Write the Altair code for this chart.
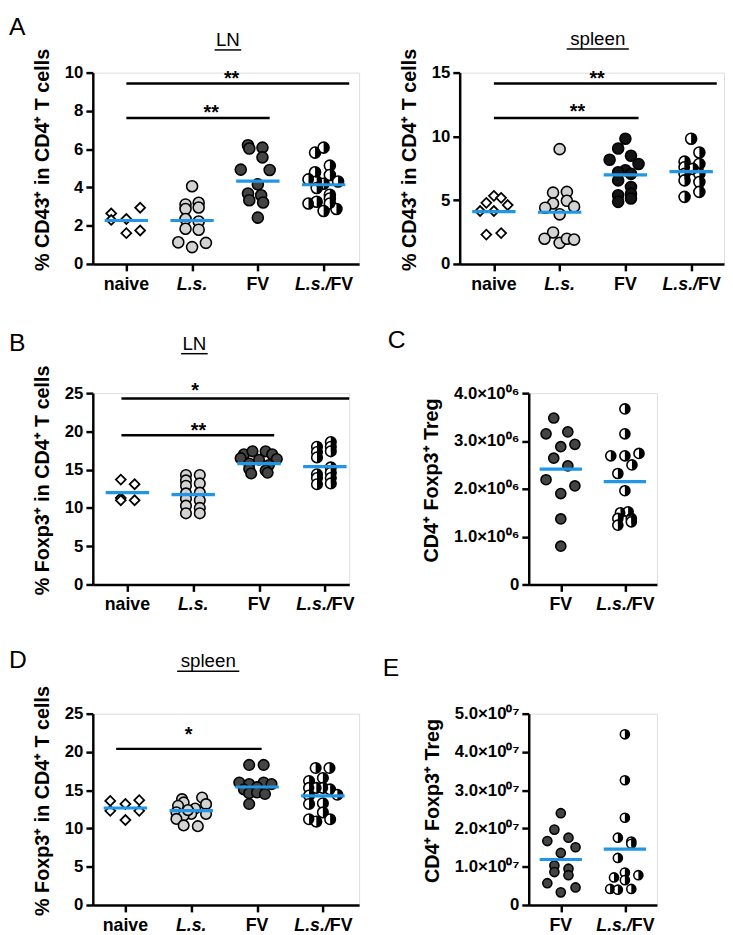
import altair as alt
import pandas as pd

FONT = "Liberation Sans"
BLUE = "#2196e6"
H = 194
HALF = "M0,-1A1,1,0,0,1,0,1Z"

CATS4 = ["naive", "L.s.", "FV", "L.s./FV"]
CATS2 = ["FV", "L.s./FV"]

# ---------------- Panel A, LN: % CD43+ in CD4+ T cells ----------------
A_LN_NAIVE = [2.64, 2.30, 2.35, 2.94, 1.61, 1.75]
A_LN_NAIVE_JIT = [-0.23, -0.23, 0.0, 0.21, 0.0, 0.21]
A_LN_LS = [4.06, 3.11, 3.20, 2.87, 2.95, 2.35, 2.22, 1.84, 1.79, 1.13, 0.88, 1.10]
A_LN_LS_JIT = [0.0, -0.1, 0.1, -0.1, 0.1, -0.1, 0.1, -0.1, 0.1, -0.21, 0.0, 0.21]
A_LN_FV = [6.20, 6.03, 6.08, 5.57, 4.93, 4.91, 4.16, 3.68, 3.59, 3.33, 3.21, 2.42]
A_LN_FV_JIT = [-0.15, -0.13, 0.07, 0.07, -0.26, 0.18, 0.0, -0.15, 0.05, -0.13, 0.08, 0.0]
A_LN_LSFV = [5.82, 6.08, 5.14, 4.79, 4.65, 4.42, 4.31, 4.31, 4.19, 3.97, 3.62, 3.42, 3.16, 3.25, 3.16, 2.77, 2.87]
A_LN_LSFV_JIT = [-0.13, 0.0, 0.095, -0.13, 0.095, -0.23, 0.22, -0.105, 0.0, -0.105, 0.095, 0.095, -0.23, -0.105, 0.095, 0.0, 0.195]
A_LN_MEAN = [2.27, 2.27, 4.33, 4.14]
A_LN_SIG_Y = [9.43, 7.63]
A_LN_SIG_FROM = [0.0, 0.0]
A_LN_SIG_TO = [3.39, 2.18]
A_LN_STAR_X = [1.6, 1.29]
A_LN_STAR_Y = [9.91, 8.14]
A_LN_STAR = ["**", "**"]

# ---------------- Panel A, spleen ----------------
A_SP_NAIVE = [4.15, 4.79, 5.34, 5.18, 4.62, 4.15, 2.30, 2.42]
A_SP_NAIVE_JIT = [-0.21, -0.115, 0.0, 0.11, 0.21, 0.0, -0.115, 0.11]
A_SP_LS = [9.0, 5.59, 5.65, 4.74, 4.95, 4.41, 4.49, 3.89, 2.47, 1.98, 1.65, 1.98, 1.91]
A_SP_LS_JIT = [0.0, -0.1, 0.11, -0.1, 0.11, -0.22, 0.22, 0.0, -0.1, -0.23, 0.0, 0.11, 0.22]
A_SP_FV = [9.82, 9.05, 8.17, 8.48, 7.84, 7.35, 7.19, 7.06, 6.55, 6.03, 5.51, 5.13, 5.39, 4.87]
A_SP_FV_JIT = [0.0, -0.11, -0.24, 0.085, 0.2, 0.0, -0.11, 0.085, -0.11, 0.085, 0.085, 0.085, -0.11, -0.11]
A_SP_LSFV = [9.82, 8.74, 8.02, 7.84, 7.58, 7.45, 7.06, 7.06, 6.55, 6.42, 5.65, 5.26]
A_SP_LSFV_JIT = [0.0, 0.125, -0.1, 0.125, -0.1, 0.025, -0.1, 0.125, -0.1, 0.125, 0.125, -0.1]
A_SP_MEAN = [4.10, 4.05, 6.98, 7.24]
A_SP_SIG_Y = [14.15, 11.45]
A_SP_SIG_FROM = [0.0, 0.0]
A_SP_SIG_TO = [3.39, 2.2]
A_SP_STAR_X = [1.57, 1.27]
A_SP_STAR_Y = [14.87, 12.3]
A_SP_STAR = ["**", "**"]

# ---------------- Panel B, LN: % Foxp3+ in CD4+ T cells ----------------
B_NAIVE = [13.7, 13.1, 11.3, 11.0, 11.0]
B_NAIVE_JIT = [-0.1, 0.11, -0.1, -0.1, 0.11]
B_LS = [14.3, 13.6, 12.9, 11.9, 11.2, 10.3, 9.3, 14.3, 13.2, 12.0, 11.0, 10.0, 9.3]
B_LS_JIT = [-0.11, -0.11, -0.11, -0.11, -0.11, -0.11, -0.11, 0.1, 0.1, 0.1, 0.1, 0.1, 0.1]
B_FV = [17.0, 17.4, 17.4, 17.0, 16.5, 16.3, 16.4, 15.8, 15.6, 15.1, 14.9, 14.5, 14.6]
B_FV_JIT = [-0.23, -0.1, 0.1, 0.2, -0.28, 0.0, 0.27, -0.15, 0.15, -0.15, 0.1, -0.12, 0.13]
B_LSFV = [18.0, 17.3, 16.6, 14.4, 13.9, 13.1, 18.6, 18.0, 17.4, 15.3, 14.6, 13.9, 13.2]
B_LSFV_JIT = [-0.12, -0.12, -0.12, -0.12, -0.12, -0.12, 0.09, 0.09, 0.09, 0.09, 0.09, 0.09, 0.09]
B_MEAN = [12.0, 11.75, 15.8, 15.4]
B_SIG_Y = [24.3, 19.5]
B_SIG_FROM = [-0.09, -0.09]
B_SIG_TO = [3.37, 2.23]
B_STAR_X = [1.03, 1.08]
B_STAR_Y = [25.9, 20.66]
B_STAR = ["*", "**"]

# ---------------- Panel C: CD4+ Foxp3+ Treg (counts) ----------------
C_FV = [3.48e6, 3.15e6, 3.19e6, 2.88e6, 2.93e6, 2.64e6, 2.48e6, 2.19e6, 2.06e6, 1.90e6, 1.37e6, 0.80e6]
C_FV_JIT = [-0.11, -0.23, 0.11, 0.0, 0.22, -0.11, 0.11, -0.23, 0.22, 0.0, 0.0, 0.0]
C_LSFV = [3.67e6, 3.15e6, 2.69e6, 2.69e6, 2.74e6, 2.50e6, 2.32e6, 1.96e6, 1.50e6, 1.52e6, 1.38e6, 1.38e6, 1.24e6, 1.31e6]
C_LSFV_JIT = [0.0, 0.0, -0.22, 0.0, 0.22, 0.11, -0.11, 0.0, -0.07, 0.05, -0.11, 0.1, -0.11, 0.1]
C_MEAN = [2.41e6, 2.15e6]

# ---------------- Panel D, spleen: % Foxp3+ in CD4+ T cells ----------------
D_NAIVE = [13.6, 12.3, 13.2, 11.1, 13.7, 12.3]
D_NAIVE_JIT = [-0.23, -0.23, 0.0, 0.0, 0.21, 0.21]
D_LS = [14.05, 13.83, 13.4, 13.18, 12.97, 12.6, 12.11, 11.9, 11.9, 11.69, 11.25, 10.4, 10.3, 12.4]
D_LS_JIT = [0.165, -0.14, -0.115, 0.225, -0.2, 0.06, -0.225, 0.0, 0.225, -0.115, -0.225, -0.115, 0.1, -0.05]
D_FV = [18.3, 18.3, 16.0, 15.8, 16.0, 15.8, 15.4, 15.1, 14.6, 14.7, 14.5, 13.2]
D_FV_JIT = [-0.12, 0.1, -0.27, -0.12, 0.1, 0.22, 0.0, -0.2, -0.12, 0.0, 0.12, -0.12]
D_LSFV = [17.9, 17.9, 16.6, 16.2, 15.3, 15.3, 15.3, 15.1, 14.4, 14.3, 13.2, 13.3, 12.1, 11.2, 10.9, 11.2]
D_LSFV_JIT = [-0.11, 0.1, 0.0, -0.21, -0.21, -0.1, 0.0, 0.11, 0.22, -0.21, -0.21, 0.0, 0.0, -0.21, -0.1, 0.11]
D_MEAN = [12.67, 12.33, 15.42, 14.26]
D_SIG_Y = [20.4]
D_SIG_FROM = [-0.14]
D_SIG_TO = [2.07]
D_STAR_X = [0.96]
D_STAR_Y = [22.85]
D_STAR = ["*"]

# ---------------- Panel E: CD4+ Foxp3+ Treg (counts) ----------------
E_FV = [2.40e7, 1.97e7, 1.67e7, 1.76e7, 1.51e7, 1.36e7, 1.03e7, 0.95e7, 0.86e7, 0.78e7, 0.57e7, 0.46e7, 0.33e7]
E_FV_JIT = [0.0, -0.1, -0.21, 0.12, 0.23, 0.0, -0.1, 0.12, -0.1, 0.12, -0.21, 0.23, 0.0]
E_LSFV = [4.46e7, 3.26e7, 2.28e7, 1.76e7, 1.66e7, 1.60e7, 1.23e7, 0.85e7, 0.72e7, 0.78e7, 0.65e7, 0.42e7, 0.40e7, 0.42e7]
E_LSFV_JIT = [0.0, 0.0, 0.0, -0.11, 0.1, 0.1, -0.11, 0.0, -0.17, 0.21, 0.0, -0.23, -0.11, 0.1]
E_MEAN = [1.19e7, 1.46e7]

LS_GRAY = "#d3d3d3"
FV_GRAY = "#444444"
FV_BLACK = "#141414"


def pts(values, jit, gi):
    return pd.DataFrame({"x": [gi + j for j in jit], "y": values})


def build_panel(W, xdom, ymax, yticks, ytitle, cats, groups, means, sig=None,
                size=110, title=None, letter=None, ylabel_expr=None):
    xs = alt.Scale(domain=xdom, nice=False, zero=False)
    ys = alt.Scale(domain=[0, ymax], nice=False, zero=True)
    xax = alt.Axis(values=list(range(len(cats))), labels=False, title=None, grid=False,
                   domainColor="black", domainWidth=2.5, tickColor="black",
                   tickWidth=2.5, tickSize=7)
    yargs = dict(values=yticks, title=ytitle, grid=False, domainColor="black",
                 domainWidth=2.5, tickColor="black", tickWidth=2.5, tickSize=7,
                 labelFont=FONT, labelFontSize=17, labelFontWeight="bold",
                 labelColor="black", labelPadding=3, titleFont=FONT,
                 titleFontSize=20, titleFontWeight="bold", titleColor="black",
                 titlePadding=12, titleY=88)
    if ylabel_expr:
        yargs["labelExpr"] = ylabel_expr
    yax = alt.Axis(**yargs)
    X = alt.X("x:Q", scale=xs, axis=xax)
    Y = alt.Y("y:Q", scale=ys, axis=yax)

    layers = []
    for gi, kind, vals, jit, fill in groups:
        df = pts(vals, jit, gi)
        if kind == "diamond":
            layers.append(alt.Chart(df).mark_point(
                shape="diamond", filled=True, fill="white", stroke="black",
                strokeWidth=1.8, size=100, opacity=1).encode(x=X, y=Y))
        elif kind == "circle":
            layers.append(alt.Chart(df).mark_point(
                shape="circle", filled=True, fill=fill, stroke="black",
                strokeWidth=1.6, size=size, opacity=1).encode(x=X, y=Y))
        else:
            layers.append(alt.Chart(df).mark_point(
                shape="circle", filled=True, fill="white", stroke="black",
                strokeWidth=1.6, size=size, opacity=1).encode(x=X, y=Y))
            layers.append(alt.Chart(df).mark_point(
                shape=HALF, filled=True, fill="black", strokeWidth=0,
                size=size, opacity=1).encode(x=X, y=Y))
    n = len(means)
    mdf = pd.DataFrame({"x": [i - 0.33 for i in range(n)],
                        "x2": [i + 0.33 for i in range(n)], "y": means})
    layers.append(alt.Chart(mdf).mark_rule(color=BLUE, strokeWidth=3.2).encode(
        x=X, x2="x2:Q", y=Y))
    if sig:
        sy, sfrom, sto, stx, sty, stt = sig
        sdf = pd.DataFrame({"x": sfrom, "x2": sto, "y": sy})
        layers.append(alt.Chart(sdf).mark_rule(color="black", strokeWidth=2.5).encode(
            x=X, x2="x2:Q", y=Y))
        tdf = pd.DataFrame({"x": stx, "y": sty, "t": stt})
        layers.append(alt.Chart(tdf).mark_text(
            font=FONT, fontSize=20, fontWeight="bold", baseline="alphabetic",
            align="center", dy=11, color="black").encode(x=X, y=Y, text="t:N"))
    ly = H + 26
    normal = [(i, c) for i, c in enumerate(cats) if c in ("naive", "FV")]
    italic = [(i, c) for i, c in enumerate(cats) if c == "L.s."]
    combo = [i for i, c in enumerate(cats) if c == "L.s./FV"]
    lab_style = dict(font=FONT, fontSize=18, fontWeight="bold", baseline="alphabetic",
                     color="black")
    if normal:
        d = pd.DataFrame({"x": [i for i, _ in normal], "t": [c for _, c in normal]})
        layers.append(alt.Chart(d).mark_text(align="center", **lab_style).encode(
            x=X, y=alt.value(ly), text="t:N"))
    if italic:
        d = pd.DataFrame({"x": [i for i, _ in italic], "t": [c for _, c in italic]})
        layers.append(alt.Chart(d).mark_text(align="center", fontStyle="italic",
                                             **lab_style).encode(
            x=X, y=alt.value(ly), text="t:N"))
    if combo:
        d1 = pd.DataFrame({"x": combo, "t": ["L.s./"] * len(combo)})
        d2 = pd.DataFrame({"x": combo, "t": ["FV"] * len(combo)})
        layers.append(alt.Chart(d1).mark_text(align="right", fontStyle="italic", dx=7,
                                              **lab_style).encode(
            x=X, y=alt.value(ly), text="t:N"))
        layers.append(alt.Chart(d2).mark_text(align="left", dx=7, **lab_style).encode(
            x=X, y=alt.value(ly), text="t:N"))
    if title:
        txt, tx, tyb, uw = title
        d = pd.DataFrame({"t": [txt]})
        layers.append(alt.Chart(d).mark_text(
            font=FONT, fontSize=19, align="center", baseline="alphabetic",
            color="black").encode(x=alt.value(tx), y=alt.value(tyb), text="t:N"))
        layers.append(alt.Chart(d).mark_rule(color="black", strokeWidth=1.5).encode(
            x=alt.value(tx - uw / 2), x2=alt.value(tx + uw / 2), y=alt.value(tyb + 4)))
    if letter:
        lt, lx, lyy = letter
        d = pd.DataFrame({"t": [lt]})
        layers.append(alt.Chart(d).mark_text(
            font=FONT, fontSize=25, align="left", baseline="top",
            color="black").encode(x=alt.value(lx), y=alt.value(lyy), text="t:N"))
    return alt.layer(*layers).properties(width=W, height=H)


pA_LN = build_panel(
    270, [-0.51, 3.54], 10, [0, 2, 4, 6, 8, 10], "% CD43\u207a in CD4\u207a T cells", CATS4,
    [(0, "diamond", A_LN_NAIVE, A_LN_NAIVE_JIT, None),
     (1, "circle", A_LN_LS, A_LN_LS_JIT, LS_GRAY),
     (2, "circle", A_LN_FV, A_LN_FV_JIT, FV_GRAY),
     (3, "half", A_LN_LSFV, A_LN_LSFV_JIT, None)],
    A_LN_MEAN,
    (A_LN_SIG_Y, A_LN_SIG_FROM, A_LN_SIG_TO, A_LN_STAR_X, A_LN_STAR_Y, A_LN_STAR),
    size=125, title=("LN", 137, -27, 27), letter=("A", -85, -58))

pA_SP = build_panel(
    268, [-0.52, 3.5], 15, [0, 5, 10, 15], "% CD43\u207a in CD4\u207a T cells", CATS4,
    [(0, "diamond", A_SP_NAIVE, A_SP_NAIVE_JIT, None),
     (1, "circle", A_SP_LS, A_SP_LS_JIT, LS_GRAY),
     (2, "circle", A_SP_FV, A_SP_FV_JIT, FV_BLACK),
     (3, "half", A_SP_LSFV, A_SP_LSFV_JIT, None)],
    A_SP_MEAN,
    (A_SP_SIG_Y, A_SP_SIG_FROM, A_SP_SIG_TO, A_SP_STAR_X, A_SP_STAR_Y, A_SP_STAR),
    size=125, title=("spleen", 140, -28, 63))

pB = build_panel(
    260, [-0.525, 3.37], 25, [0, 5, 10, 15, 20, 25], "% Foxp3\u207a in CD4\u207a T cells", CATS4,
    [(0, "diamond", B_NAIVE, B_NAIVE_JIT, None),
     (1, "circle", B_LS, B_LS_JIT, LS_GRAY),
     (2, "circle", B_FV, B_FV_JIT, FV_GRAY),
     (3, "half", B_LSFV, B_LSFV_JIT, None)],
    B_MEAN,
    (B_SIG_Y, B_SIG_FROM, B_SIG_TO, B_STAR_X, B_STAR_Y, B_STAR),
    size=115, title=("LN", 103, -44, 27), letter=("B", -85, -63))

pC = build_panel(
    130, [-0.5, 1.5], 4e6, [0, 1e6, 2e6, 3e6, 4e6], "CD4\u207a Foxp3\u207a Treg", CATS2,
    [(0, "circle", C_FV, C_FV_JIT, FV_GRAY),
     (1, "half", C_LSFV, C_LSFV_JIT, None)],
    C_MEAN, None, size=105, letter=("C", -143, -66),
    ylabel_expr="datum.value == 0 ? '0' : format(datum.value / 1e6, '.1f') + '\u00d710\u2070\u2076'")

pD = build_panel(
    270, [-0.495, 3.55], 25, [0, 5, 10, 15, 20, 25], "% Foxp3\u207a in CD4\u207a T cells", CATS4,
    [(0, "diamond", D_NAIVE, D_NAIVE_JIT, None),
     (1, "circle", D_LS, D_LS_JIT, LS_GRAY),
     (2, "circle", D_FV, D_FV_JIT, FV_GRAY),
     (3, "half", D_LSFV, D_LSFV_JIT, None)],
    D_MEAN,
    (D_SIG_Y, D_SIG_FROM, D_SIG_TO, D_STAR_X, D_STAR_Y, D_STAR),
    size=115, title=("spleen", 117, -47, 63), letter=("D", -85, -66))

pE = build_panel(
    130, [-0.5, 1.5], 5e7, [0, 1e7, 2e7, 3e7, 4e7, 5e7], "CD4\u207a Foxp3\u207a Treg", CATS2,
    [(0, "circle", E_FV, E_FV_JIT, FV_GRAY),
     (1, "half", E_LSFV, E_LSFV_JIT, None)],
    E_MEAN, None, size=85, letter=("E", -148, -58),
    ylabel_expr="datum.value == 0 ? '0' : format(datum.value / 1e7, '.1f') + '\u00d710\u2070\u2077'")

rowA = alt.hconcat(pA_LN, pA_SP, spacing=102, bounds="flush")
rowB = alt.hconcat(pB, pC, spacing=182, bounds="flush")
rowD = alt.hconcat(pD, pE, spacing=172, bounds="flush")

chart = alt.vconcat(rowA, rowB, rowD, spacing=33).properties(
    padding={"left": 0, "top": 0, "right": 0, "bottom": 0}
).configure_view(stroke=None).configure(background="white")

chart.save("out.html", embed_options={"renderer": "svg", "actions": False})
